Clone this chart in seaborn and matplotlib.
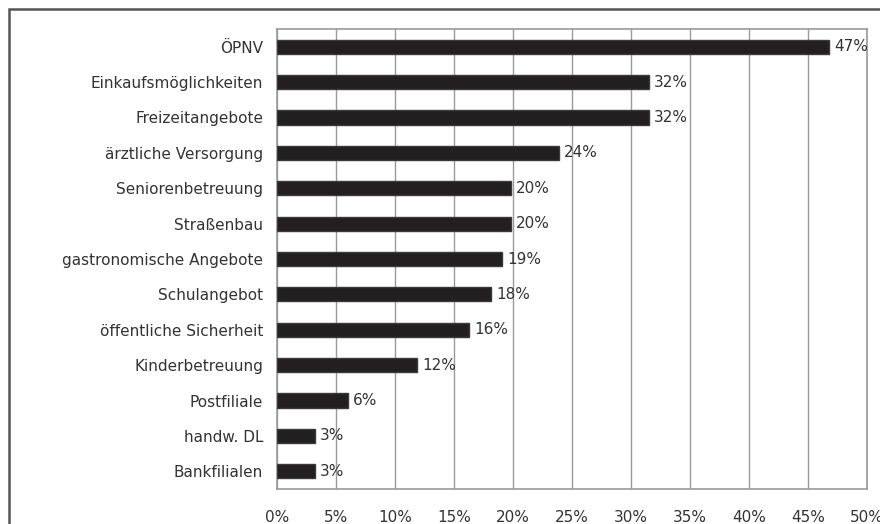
import numpy as np
import pandas as pd
import seaborn as sns
import matplotlib.pyplot as plt
from matplotlib.patches import Rectangle

# data
categories = [
    "ÖPNV", "Einkaufsmöglichkeiten", "Freizeitangebote", "ärztliche Versorgung",
    "Seniorenbetreuung", "Straßenbau", "gastronomische Angebote", "Schulangebot",
    "öffentliche Sicherheit", "Kinderbetreuung", "Postfiliale", "handw. DL",
    "Bankfilialen",
]
values = [46.8, 31.5, 31.5, 23.9, 19.8, 19.8, 19.1, 18.1, 16.3, 11.9, 6.0, 3.2, 3.2]
x_ticks = [0, 5, 10, 15, 20, 25, 30, 35, 40, 45, 50]

df = pd.DataFrame({"kategorie": categories, "anteil": values})

sns.set_style("white")
plt.rcParams['font.family'] = ['DejaVu Sans']
text_col = '#333333'
grid_col = '#9a9a9a'

fig = plt.figure(figsize=(8.8, 5.24), dpi=100)
ax = fig.add_axes([277 / 880, 1 - 489 / 524, 590 / 880, 460 / 524])

sns.barplot(data=df, x="anteil", y="kategorie", orient="h", color="#231f20",
            edgecolor="#3a3a3a", linewidth=1, width=0.4, saturation=1, ax=ax, zorder=3)

ax.set_xlim(0, 50)
ax.set_ylim(12.5, -0.5)
ax.set_xticks(x_ticks)
ax.set_xticklabels([f"{t}%" for t in x_ticks], fontsize=11, color=text_col)
ax.set_yticks(range(len(categories)))
ax.set_yticklabels(categories, fontsize=11, color=text_col)
ax.set_yticks(np.arange(-0.5, len(categories), 1), minor=True)
ax.tick_params(axis='y', which='major', length=0, pad=10)
ax.tick_params(axis='y', which='minor', length=3, color=grid_col, width=1)
ax.tick_params(axis='x', length=3, color=grid_col, width=1, pad=12)
ax.set_xlabel("")
ax.set_ylabel("")
ax.xaxis.grid(True, color=grid_col, linewidth=1)
ax.set_axisbelow(True)
for s in ax.spines.values():
    s.set_color(grid_col)
    s.set_linewidth(1.2)

for i, v in enumerate(values):
    ax.text(v + 0.45, i, f"{v:.0f}%", va='center', ha='left', fontsize=11,
            color=text_col, zorder=4)

# outer frame, only top and left edge are inside the picture
fig.patches.append(Rectangle((9 / 880, -0.2), 1.2, 1.2 - 9 / 524, transform=fig.transFigure,
                             fill=False, edgecolor='#555555', linewidth=1.8))

fig.savefig("out.png", dpi=100)
